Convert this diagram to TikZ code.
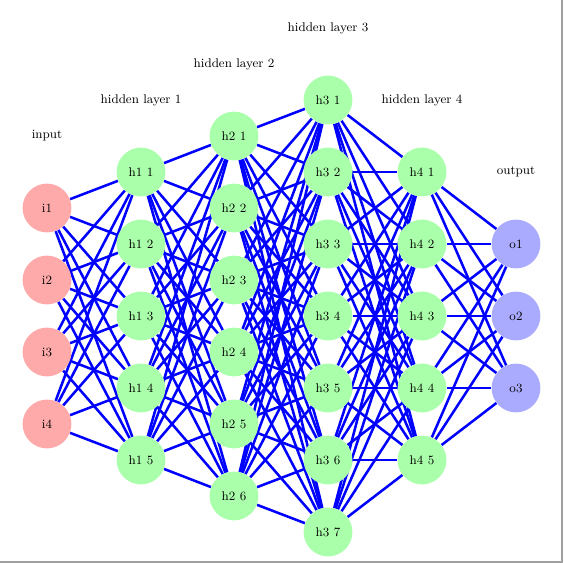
\documentclass[tikz,border=0pt]{standalone}
\usepackage{tikz}
\usetikzlibrary{positioning,calc,backgrounds}

\definecolor{inred}{HTML}{FFAAAA}
\definecolor{hidgreen}{HTML}{AAFFAA}
\definecolor{outblue}{HTML}{AAAAFF}
\definecolor{framegray}{HTML}{A0A0A0}

\tikzset{
  neuron/.style={circle, minimum size=1.22cm, inner sep=0pt, font=\small},
  innode/.style={neuron, fill=inred},
  hidnode/.style={neuron, fill=hidgreen},
  outnode/.style={neuron, fill=outblue},
  layerlabel/.style={font=\small},
  synapse/.style={draw=blue, line width=1.8pt}
}

\begin{document}
\begin{tikzpicture}
\useasboundingbox (0,0) rectangle (14.075,-14.075);
\draw[framegray, line width=0.05cm] (14.05,0) -- (14.05,-14.05) -- (0,-14.05);

% INPUT

\node[innode] (i1) at (1.175,-5.2)  {i1};
\node[innode] (i2) at (1.175,-7.0)  {i2};
\node[innode] (i3) at (1.175,-8.8)  {i3};
\node[innode] (i4) at (1.175,-10.6) {i4};

% HIDDEN LAYER 1

\node[hidnode] (h11) at (3.525,-4.3)  {h1 1};
\node[hidnode] (h12) at (3.525,-6.1)  {h1 2};
\node[hidnode] (h13) at (3.525,-7.9)  {h1 3};
\node[hidnode] (h14) at (3.525,-9.7)  {h1 4};
\node[hidnode] (h15) at (3.525,-11.5) {h1 5};

% HIDDEN LAYER 2

\node[hidnode] (h21) at (5.85,-3.4)  {h2 1};
\node[hidnode] (h22) at (5.85,-5.2)  {h2 2};
\node[hidnode] (h23) at (5.85,-7.0)  {h2 3};
\node[hidnode] (h24) at (5.85,-8.8)  {h2 4};
\node[hidnode] (h25) at (5.85,-10.6) {h2 5};
\node[hidnode] (h26) at (5.85,-12.4) {h2 6};

% HIDDEN LAYER 3

\node[hidnode] (h31) at (8.2,-2.5)  {h3 1};
\node[hidnode] (h32) at (8.2,-4.3)  {h3 2};
\node[hidnode] (h33) at (8.2,-6.1)  {h3 3};
\node[hidnode] (h34) at (8.2,-7.9)  {h3 4};
\node[hidnode] (h35) at (8.2,-9.7)  {h3 5};
\node[hidnode] (h36) at (8.2,-11.5) {h3 6};
\node[hidnode] (h37) at (8.2,-13.3) {h3 7};

% HIDDEN LAYER 4

\node[hidnode] (h41) at (10.55,-4.3)  {h4 1};
\node[hidnode] (h42) at (10.55,-6.1)  {h4 2};
\node[hidnode] (h43) at (10.55,-7.9)  {h4 3};
\node[hidnode] (h44) at (10.55,-9.7)  {h4 4};
\node[hidnode] (h45) at (10.55,-11.5) {h4 5};

% OUTPUT

\node[outnode] (o1) at (12.9,-6.1) {o1};
\node[outnode] (o2) at (12.9,-7.9) {o2};
\node[outnode] (o3) at (12.9,-9.7) {o3};

% labels

\node[layerlabel] (lin) at ($(i1)+(0,1.8)$)  {input};
\node[layerlabel] (lh1) at ($(h11)+(0,1.8)$) {hidden layer 1};
\node[layerlabel] (lh2) at ($(h21)+(0,1.8)$) {hidden layer 2};
\node[layerlabel] (lh3) at ($(h31)+(0,1.8)$) {hidden layer 3};
\node[layerlabel] (lh4) at ($(h41)+(0,1.8)$) {hidden layer 4};
\node[layerlabel] (lout) at ($(o1)+(0,1.8)$) {output};

% connections

\begin{scope}[on background layer]
\foreach \a in {1,...,4}
  \foreach \b in {1,...,5}
    \draw[synapse] (i\a) -- (h1\b);
\foreach \a in {1,...,5}
  \foreach \b in {1,...,6}
    \draw[synapse] (h1\a) -- (h2\b);
\foreach \a in {1,...,6}
  \foreach \b in {1,...,7}
    \draw[synapse] (h2\a) -- (h3\b);
\foreach \a in {1,...,7}
  \foreach \b in {1,...,5}
    \draw[synapse] (h3\a) -- (h4\b);
\foreach \a in {1,...,5}
  \foreach \b in {1,...,3}
    \draw[synapse] (h4\a) -- (o\b);
\end{scope}

\end{tikzpicture}
\end{document}
